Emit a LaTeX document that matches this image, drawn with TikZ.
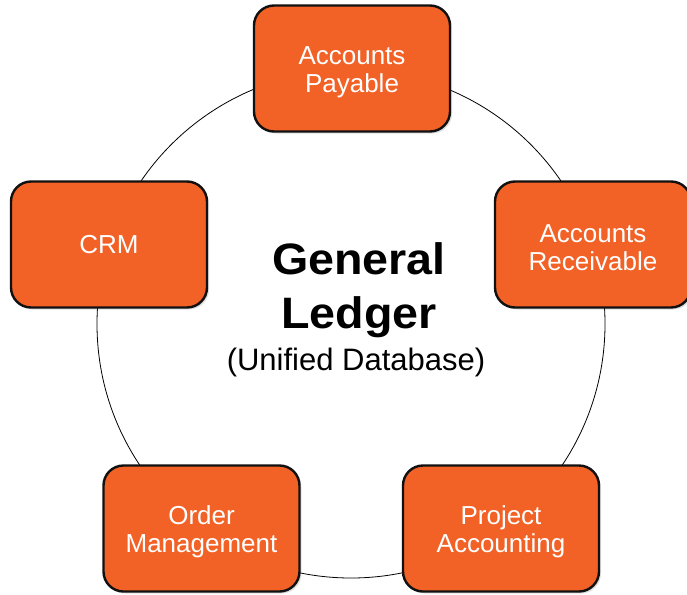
\documentclass[tikz,border=0pt]{standalone}
\usepackage{fontspec}
\setmainfont{Liberation Sans}
\usetikzlibrary{shadows}
\definecolor{boxorange}{HTML}{F26125}
\definecolor{boxedge}{HTML}{111111}
\newcommand\topstrut{\rule{0pt}{25pt}}
\tikzset{
  modbox/.style={draw=boxedge, line width=2.4pt, fill=boxorange, rounded corners=20pt,
    minimum width=196pt, minimum height=126pt, align=center, text=white, inner sep=0pt,
    font=\fontsize{26}{28}\selectfont,
    drop shadow={opacity=0.25, shadow xshift=2pt, shadow yshift=-2pt, fill=gray}},
  ring/.style={draw=black, line width=0.8pt}
}
\begin{document}
\begin{tikzpicture}[x=1pt,y=-1pt]
\useasboundingbox (0,0) rectangle (687,594);
\fill[white] (0,0) rectangle (687,594);
\coordinate (c) at (351,324);
\draw[ring] (c) circle[radius=254pt];
\node[modbox] (ap) at (352,68.5) {\topstrut Accounts\\Payable};
\node[modbox] (crm) at (109,244.5) {CRM};
\node[modbox] (ar) at (593,244.5) {\topstrut Accounts\\Receivable};
\node[modbox] (om) at (201.5,528.5) {\topstrut Order\\Management};
\node[modbox] (pa) at (501,528.5) {\topstrut Project\\Accounting};
\node[font=\bfseries\fontsize{44}{54}\selectfont, align=center, anchor=base] (gl) at (359,328) {\scalebox{1.06}[1]{General}\\\scalebox{1.06}[1]{Ledger}};
\node[font=\fontsize{31}{36}\selectfont, anchor=base] (ud) at (356,370) {(Unified Database)};
\end{tikzpicture}
\end{document}
